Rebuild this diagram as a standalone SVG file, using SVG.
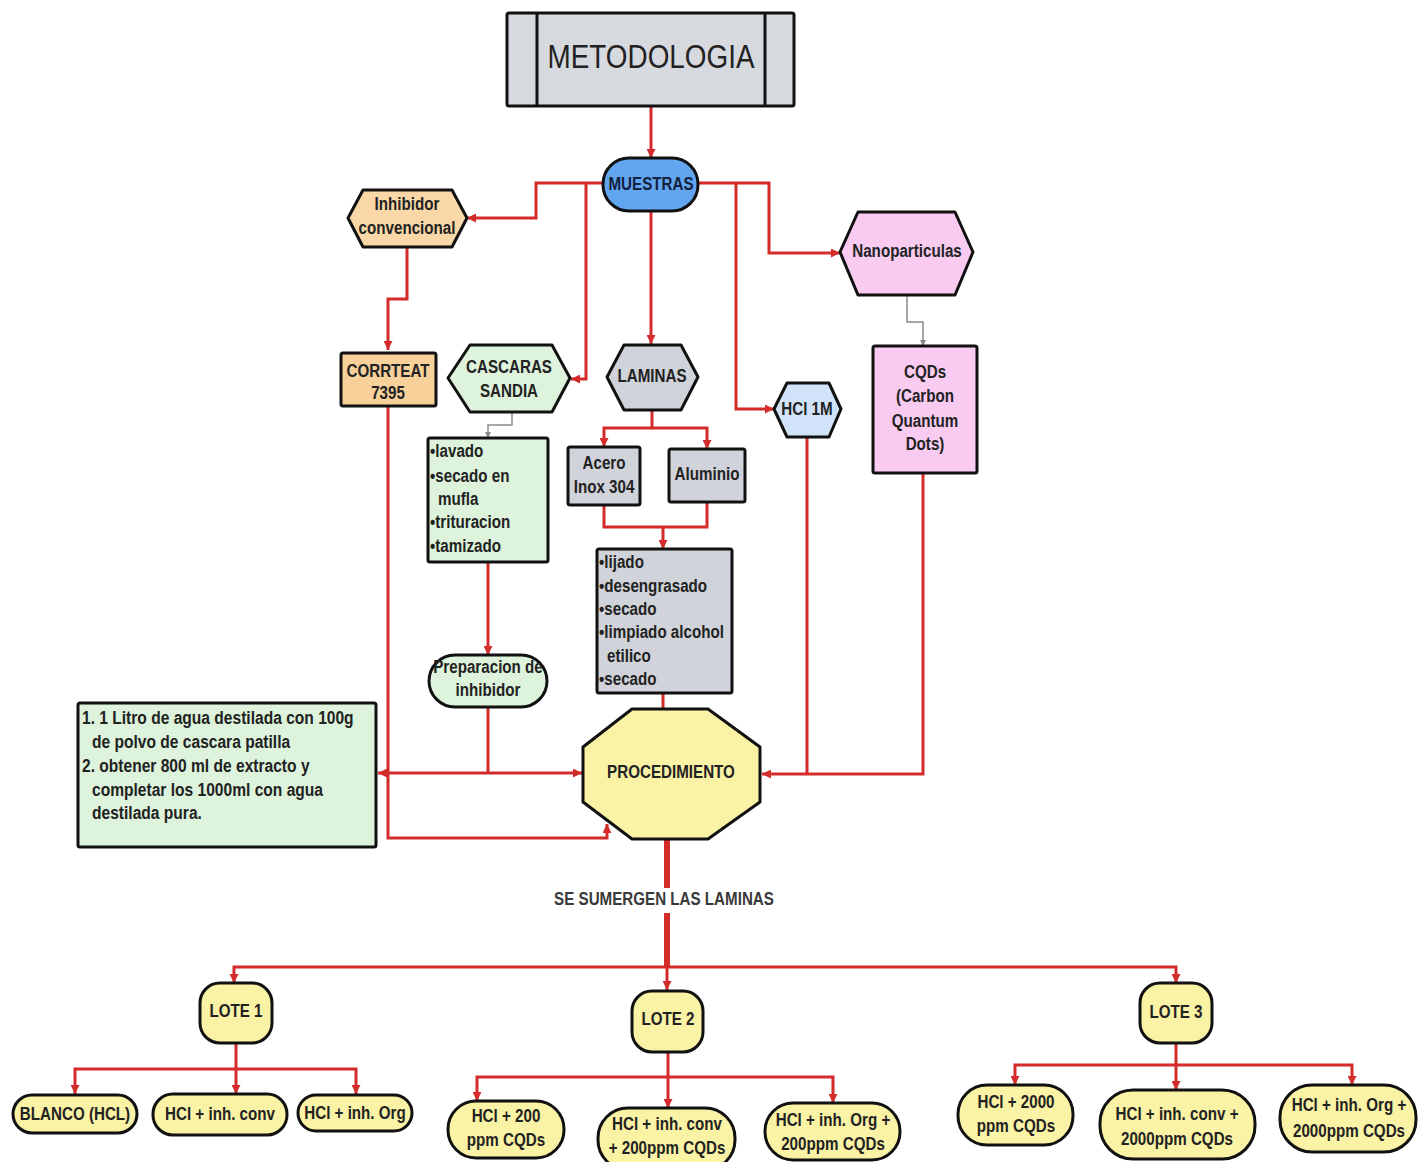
<svg xmlns="http://www.w3.org/2000/svg" width="1418" height="1162" viewBox="0 0 1418 1162">
  <defs>
    <marker id="ah" viewBox="0 0 10 10" refX="10" refY="5" markerWidth="10" markerHeight="9" markerUnits="userSpaceOnUse" orient="auto">
      <path d="M0,0 L10,5 L0,10 z" fill="#d42b2b"/>
    </marker>
    <marker id="ahg" viewBox="0 0 10 10" refX="10" refY="5" markerWidth="6" markerHeight="6" markerUnits="userSpaceOnUse" orient="auto">
      <path d="M0,0 L10,5 L0,10 z" fill="#888"/>
    </marker>
  </defs>
  <style>
    .ln { fill: none; stroke: #d42b2b; stroke-width: 3; stroke-linejoin: miter; }
    .thick { stroke-width: 6; }
    .arw { marker-end: url(#ah); }
    .gr { fill: none; stroke: #8a8a8a; stroke-width: 1.5; marker-end: url(#ahg); }
    .nd { stroke: #111; stroke-width: 3; stroke-linejoin: round; }
    .gray { fill: #d0d3d9; }
    .green { fill: #ddf3dc; }
    .peach { fill: #f9d7a6; }
    .pink { fill: #f9cbf1; }
    .blue { fill: #62a6f0; }
    .lblue { fill: #d0e3f8; }
    .yellow { fill: #faf2a4; }
    text { font-family: "Liberation Sans", Arial, Helvetica, sans-serif; font-weight: bold; font-size: 18.5px; fill: #222; }
    .c { text-anchor: middle; }
    .title { font-weight: normal; font-size: 34px; }
    .box { font-size: 19px; }
    .cap { fill: #3a3a3a; }
  </style>
  <rect width="1418" height="1162" fill="#ffffff"/>

  <!-- connectors -->
  <g id="connectors">
    <path class="ln arw" d="M651,106 V158"/>
    <path class="ln arw" d="M603,183 H536 V218 H467"/>
    <path class="ln arw" d="M586,183 V379 H571"/>
    <path class="ln arw" d="M651,210 V344"/>
    <path class="ln arw" d="M698,183 H769 V253 H840"/>
    <path class="ln arw" d="M736,183 V409 H774"/>
    <path class="ln arw" d="M407,247 V299 H388 V350"/>
    <path class="ln arw" d="M388,406 V838 H607 V824"/>
    <path class="gr" d="M512,412 V425 H488 V438"/>
    <path class="ln arw" d="M488,562 V655"/>
    <path class="ln arw" d="M652,410 V428 H604 V447"/>
    <path class="ln arw" d="M652,428 H707 V449"/>
    <path class="ln" d="M604,505 V527 H707 V502"/>
    <path class="ln arw" d="M663,527 V549"/>
    <path class="ln" d="M663,693 V709"/>
    <path class="ln" d="M488,707 V773"/>
    <path class="ln arw" d="M488,773 H378"/>
    <path class="ln arw" d="M488,773 H582"/>
    <path class="gr" d="M907,295 V322 H923 V346"/>
    <path class="ln" d="M807,437 V774"/>
    <path class="ln arw" d="M923,473 V774 H762"/>
    <path class="ln thick" d="M667,839 V888"/>
    <path class="ln thick" d="M667,913 V967"/>
    <path class="ln arw" d="M667,967 H234 V983"/>
    <path class="ln arw" d="M667,967 H1176 V983"/>
    <path class="ln arw" d="M667,967 V990"/>
    <path class="ln" d="M236,1043 V1069"/>
    <path class="ln arw" d="M236,1069 H75 V1094"/>
    <path class="ln arw" d="M236,1069 H356 V1094"/>
    <path class="ln arw" d="M236,1069 V1094"/>
    <path class="ln" d="M668,1052 V1077"/>
    <path class="ln arw" d="M668,1077 H477 V1101"/>
    <path class="ln arw" d="M668,1077 H833 V1103"/>
    <path class="ln arw" d="M668,1077 V1108"/>
    <path class="ln" d="M1176,1043 V1065"/>
    <path class="ln arw" d="M1176,1065 H1015 V1085"/>
    <path class="ln arw" d="M1176,1065 H1352 V1085"/>
    <path class="ln arw" d="M1176,1065 V1090"/>
  </g>

  <!-- top title -->
  <g id="metodologia">
    <rect class="nd gray" x="507" y="13" width="287" height="93" rx="2" fill="#d6d9de" style="fill:#d6d9de"/>
    <line class="nd" x1="537" y1="13" x2="537" y2="106"/>
    <line class="nd" x1="765" y1="13" x2="765" y2="106"/>
    <text class="c title" transform="translate(651,68) scale(0.82,1)">METODOLOGIA</text>
  </g>

  <g id="muestras">
    <rect class="nd blue" x="603" y="158" width="95" height="53" rx="26"/>
    <text class="c" style="fill:#13213d" transform="translate(651,190) scale(0.82,1)">MUESTRAS</text>
  </g>

  <g id="inhibidor-convencional">
    <polygon class="nd peach" points="348,218 363,190 452,190 467,218 452,247 363,247"/>
    <text class="c" transform="translate(407,210) scale(0.82,1)">Inhibidor</text>
    <text class="c" transform="translate(407,234) scale(0.82,1)">convencional</text>
  </g>

  <g id="corrteat">
    <rect class="nd peach" x="341" y="353" width="95" height="53" rx="2" style="fill:#f8d09a"/>
    <text class="c" transform="translate(388,377) scale(0.82,1)">CORRTEAT</text>
    <text class="c" transform="translate(388,399) scale(0.82,1)">7395</text>
  </g>

  <g id="cascaras-sandia">
    <polygon class="nd green" points="448,378 470,345 552,345 570,378 552,412 470,412"/>
    <text class="c" transform="translate(509,373) scale(0.82,1)">CASCARAS</text>
    <text class="c" transform="translate(509,397) scale(0.82,1)">SANDIA</text>
  </g>

  <g id="laminas">
    <polygon class="nd gray" points="607,377 624,345 681,345 698,377 681,410 624,410"/>
    <text class="c" transform="translate(652,382) scale(0.82,1)">LAMINAS</text>
  </g>

  <g id="hcl-1m">
    <polygon class="nd lblue" points="774,409 787,383 829,383 841,409 829,437 787,437"/>
    <text class="c" transform="translate(807,415) scale(0.82,1)">HCl 1M</text>
  </g>

  <g id="nanoparticulas">
    <polygon class="nd pink" points="840,252 858,212 955,212 973,252 955,295 858,295"/>
    <text class="c" transform="translate(907,257) scale(0.82,1)">Nanoparticulas</text>
  </g>

  <g id="cqds">
    <rect class="nd pink" x="873" y="346" width="104" height="127" rx="2"/>
    <text class="c" transform="translate(925,378) scale(0.82,1)">CQDs</text>
    <text class="c" transform="translate(925,402) scale(0.82,1)">(Carbon</text>
    <text class="c" transform="translate(925,427) scale(0.82,1)">Quantum</text>
    <text class="c" transform="translate(925,450) scale(0.82,1)">Dots)</text>
  </g>

  <g id="preparacion-cascaras">
    <rect class="nd green" x="428" y="438" width="120" height="124" rx="2"/>
    <text transform="translate(430,457) scale(0.82,1)">•lavado</text>
    <text transform="translate(430,482) scale(0.82,1)">•secado en</text>
    <text transform="translate(438,505) scale(0.82,1)">mufla</text>
    <text transform="translate(430,528) scale(0.82,1)">•trituracion</text>
    <text transform="translate(430,552) scale(0.82,1)">•tamizado</text>
  </g>

  <g id="acero">
    <rect class="nd gray" x="568" y="447" width="72" height="58" rx="2"/>
    <text class="c" transform="translate(604,469) scale(0.82,1)">Acero</text>
    <text class="c" transform="translate(604,493) scale(0.82,1)">Inox 304</text>
  </g>

  <g id="aluminio">
    <rect class="nd gray" x="669" y="449" width="76" height="53" rx="2"/>
    <text class="c" transform="translate(707,480) scale(0.82,1)">Aluminio</text>
  </g>

  <g id="preparacion-laminas">
    <rect class="nd gray" x="597" y="549" width="135" height="144" rx="2"/>
    <text transform="translate(599,568) scale(0.82,1)">•lijado</text>
    <text transform="translate(599,592) scale(0.82,1)">•desengrasado</text>
    <text transform="translate(599,615) scale(0.82,1)">•secado</text>
    <text transform="translate(599,638) scale(0.82,1)">•limpiado alcohol</text>
    <text transform="translate(607,662) scale(0.82,1)">etilico</text>
    <text transform="translate(599,685) scale(0.82,1)">•secado</text>
  </g>

  <g id="preparacion-inhibidor">
    <rect class="nd green" x="429" y="655" width="118" height="52" rx="26"/>
    <text class="c" transform="translate(488,673) scale(0.82,1)">Preparacion de</text>
    <text class="c" transform="translate(488,696) scale(0.82,1)">inhibidor</text>
  </g>

  <g id="receta">
    <rect class="nd green" x="78" y="703" width="298" height="144" rx="2"/>
    <text class="box" transform="translate(82,724) scale(0.82,1)">1. 1 Litro de agua destilada con 100g</text>
    <text class="box" transform="translate(92,748) scale(0.82,1)">de polvo de cascara patilla</text>
    <text class="box" transform="translate(82,772) scale(0.82,1)">2.  obtener 800 ml de extracto y</text>
    <text class="box" transform="translate(92,796) scale(0.82,1)">completar los 1000ml con agua</text>
    <text class="box" transform="translate(92,819) scale(0.82,1)">destilada pura.</text>
  </g>

  <g id="procedimiento">
    <polygon class="nd yellow" points="632,709 708,709 760,747 760,802 708,839 632,839 583,802 583,747"/>
    <text class="c" transform="translate(671,778) scale(0.82,1)">PROCEDIMIENTO</text>
  </g>

  <g id="sumergen">
    <text class="c cap" transform="translate(664,905) scale(0.82,1)">SE SUMERGEN LAS LAMINAS</text>
  </g>

  <g id="lote-1">
    <rect class="nd yellow" x="200" y="983" width="72" height="60" rx="20"/>
    <text class="c" transform="translate(236,1017) scale(0.82,1)">LOTE 1</text>
  </g>
  <g id="lote-2">
    <rect class="nd yellow" x="632" y="991" width="71" height="61" rx="20"/>
    <text class="c" transform="translate(668,1025) scale(0.82,1)">LOTE 2</text>
  </g>
  <g id="lote-3">
    <rect class="nd yellow" x="1140" y="983" width="72" height="60" rx="20"/>
    <text class="c" transform="translate(1176,1018) scale(0.82,1)">LOTE 3</text>
  </g>

  <g id="l1-blanco">
    <rect class="nd yellow" x="13" y="1095" width="124" height="38" rx="19"/>
    <text class="c" transform="translate(75,1120) scale(0.82,1)">BLANCO (HCL)</text>
  </g>
  <g id="l1-conv">
    <rect class="nd yellow" x="153" y="1094" width="134" height="41" rx="20"/>
    <text class="c" transform="translate(220,1120) scale(0.82,1)">HCl + inh. conv</text>
  </g>
  <g id="l1-org">
    <rect class="nd yellow" x="298" y="1095" width="114" height="36" rx="18"/>
    <text class="c" transform="translate(355,1119) scale(0.82,1)">HCl + inh. Org</text>
  </g>

  <g id="l2-cqds">
    <rect class="nd yellow" x="448" y="1101" width="116" height="57" rx="28"/>
    <text class="c" transform="translate(506,1122) scale(0.82,1)">HCl + 200</text>
    <text class="c" transform="translate(506,1146) scale(0.82,1)">ppm CQDs</text>
  </g>
  <g id="l2-conv">
    <rect class="nd yellow" x="598" y="1108" width="137" height="62" rx="30"/>
    <text class="c" transform="translate(667,1130) scale(0.82,1)">HCl + inh. conv</text>
    <text class="c" transform="translate(667,1154) scale(0.82,1)">+ 200ppm CQDs</text>
  </g>
  <g id="l2-org">
    <rect class="nd yellow" x="765" y="1103" width="135" height="57" rx="28"/>
    <text class="c" transform="translate(833,1126) scale(0.82,1)">HCl + inh. Org +</text>
    <text class="c" transform="translate(833,1150) scale(0.82,1)">200ppm CQDs</text>
  </g>

  <g id="l3-cqds">
    <rect class="nd yellow" x="958" y="1085" width="115" height="60" rx="29"/>
    <text class="c" transform="translate(1016,1108) scale(0.82,1)">HCl + 2000</text>
    <text class="c" transform="translate(1016,1132) scale(0.82,1)">ppm CQDs</text>
  </g>
  <g id="l3-conv">
    <rect class="nd yellow" x="1100" y="1090" width="155" height="69" rx="33"/>
    <text class="c" transform="translate(1177,1120) scale(0.82,1)">HCl + inh. conv +</text>
    <text class="c" transform="translate(1177,1145) scale(0.82,1)">2000ppm CQDs</text>
  </g>
  <g id="l3-org">
    <rect class="nd yellow" x="1280" y="1085" width="136" height="67" rx="32"/>
    <text class="c" transform="translate(1349,1111) scale(0.82,1)">HCl + inh. Org +</text>
    <text class="c" transform="translate(1349,1137) scale(0.82,1)">2000ppm CQDs</text>
  </g>
</svg>
